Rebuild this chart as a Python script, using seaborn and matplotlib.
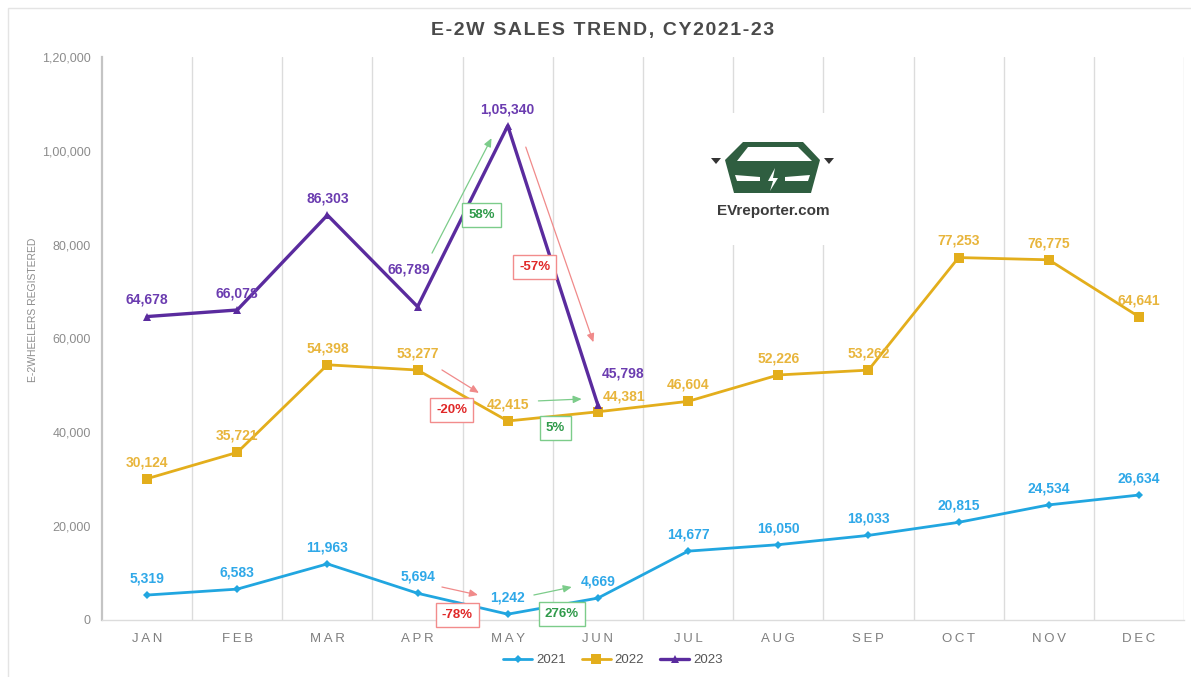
import numpy as np
import pandas as pd
import matplotlib
matplotlib.use("Agg")
import matplotlib.pyplot as plt
import seaborn as sns
from matplotlib.ticker import FuncFormatter
from matplotlib.patches import Polygon, Rectangle

# data
months = ["JAN", "FEB", "MAR", "APR", "MAY", "JUN",
          "JUL", "AUG", "SEP", "OCT", "NOV", "DEC"]
sales_2021 = [5319, 6583, 11963, 5694, 1242, 4669,
              14677, 16050, 18033, 20815, 24534, 26634]
sales_2022 = [30124, 35721, 54398, 53277, 42415, 44381,
              46604, 52226, 53262, 77253, 76775, 64641]
sales_2023 = [64678, 66078, 86303, 66789, 105340, 45798]
years = ["2021", "2022", "2023"]
y_ticks = [0, 20000, 40000, 60000, 80000, 100000, 120000]

series = {"2021": sales_2021, "2022": sales_2022, "2023": sales_2023}
rows = []
for yr in years:
    for i, v in enumerate(series[yr]):
        rows.append({"year": yr, "pos": i, "month": months[i], "sales": v})
df = pd.DataFrame(rows)


def indian(v, pos=None):
    s = str(int(round(v)))
    if len(s) <= 3:
        return s
    last3, rest = s[-3:], s[:-3]
    groups = []
    while len(rest) > 2:
        groups.insert(0, rest[-2:])
        rest = rest[:-2]
    if rest:
        groups.insert(0, rest)
    return ",".join(groups + [last3])


def spaced(s, sp):
    # fake letter spacing
    return sp.join(s)


sns.set_style("white")
plt.rcParams["font.family"] = ["Liberation Sans", "DejaVu Sans"]

line_col = {"2021": "#21a6e0", "2022": "#e3ae1c", "2023": "#5a2b9e"}
text_col = {"2021": "#2fa8e8", "2022": "#e8b53c", "2023": "#6b3cb0"}
marker = {"2021": "D", "2022": "s", "2023": "^"}
msize = {"2021": 4, "2022": 6.5, "2023": 5.5}
lw = {"2021": 2.0, "2022": 2.0, "2023": 2.4}

W, H = 1191, 677
fig = plt.figure(figsize=(W / 100, H / 100), dpi=100)
ax = fig.add_axes([102 / W, 1 - 620 / H, (1184 - 102) / W, (620 - 57) / H])

for yr in years:
    d = df[df["year"] == yr]
    sns.lineplot(data=d, x="pos", y="sales", ax=ax, color=line_col[yr],
                 marker=marker[yr], markersize=msize[yr], markeredgewidth=0,
                 linewidth=lw[yr], label=yr, zorder=3)

# data labels (a few were nudged in the original)
nudge = {("2023", 3): (-6, 27), ("2023", 5): (18, 23), ("2022", 5): (19, 11)}
for yr in years:
    for i, v in enumerate(series[yr]):
        dx, dy = nudge.get((yr, i), (0, 12))
        ax.annotate(indian(v), (i, v), xytext=(dx, dy), textcoords="offset points",
                    ha="center", va="center", fontsize=10, fontweight="bold",
                    color=text_col[yr], zorder=5)

# month-on-month change callouts: (year, from_idx, start, end, box)
callouts = [
    ("2023", 3, (3.16, 78200), (3.82, 102700), (3.71, 86300)),
    ("2023", 4, (4.20, 100800), (4.95, 59200), (4.30, 75200)),
    ("2022", 3, (3.27, 53300), (3.68, 48400), (3.38, 44750)),
    ("2022", 4, (4.34, 46700), (4.82, 47100), (4.53, 40900)),
    ("2021", 3, (3.27, 7030), (3.67, 5330), (3.44, 1070)),
    ("2021", 4, (4.29, 5330), (4.71, 7030), (4.60, 1280)),
]
for yr, i, p0, p1, pb in callouts:
    vals = series[yr]
    chg = (vals[i + 1] / vals[i] - 1) * 100
    good = chg >= 0
    arrow_c = "#7ccc8a" if good else "#f08a8a"
    txt_c = "#2f9a4a" if good else "#e02828"
    ax.annotate("", xy=p1, xytext=p0,
                arrowprops=dict(arrowstyle="-|>,head_length=0.5,head_width=0.22",
                                color=arrow_c, lw=0.9, shrinkA=0, shrinkB=0),
                zorder=4)
    ax.text(pb[0], pb[1], f"{chg:.0f}%", ha="center", va="center",
            fontsize=9.5, fontweight="bold", color=txt_c, zorder=6,
            bbox=dict(boxstyle="square,pad=0.45", fc="white",
                      ec=arrow_c if good else "#f28c8c", lw=1.0))

ax.set_xlim(-0.5, 11.5)
ax.set_ylim(0, 120000)
ax.set_xticks(range(12))
ax.set_xticklabels([spaced(m, "\u2009") for m in months])
ax.set_xticks(np.arange(0.5, 12, 1), minor=True)
ax.set_yticks(y_ticks)
ax.yaxis.set_major_formatter(FuncFormatter(indian))
ax.grid(which="minor", axis="x", color="#dcdcdc", lw=1.0)
ax.grid(which="major", visible=False)
ax.tick_params(axis="x", which="both", length=0, pad=9, labelsize=9.5,
               labelcolor="#7f7f7f")
ax.tick_params(axis="y", length=4, width=1, color="#c0c0c0", pad=4,
               labelsize=9, labelcolor="#8c8c8c")
ax.set_xlabel("")
ax.set_ylabel("")
for s in ["top", "right"]:
    ax.spines[s].set_visible(False)
ax.spines["left"].set_color("#c4c4c4")
ax.spines["left"].set_linewidth(1.6)
ax.spines["bottom"].set_color("#dcdcdc")
ax.spines["bottom"].set_linewidth(1.0)
ax.set_axisbelow(True)

ax.legend_.remove()
handles, labels = ax.get_legend_handles_labels()
fig.legend(handles, labels, loc="center", bbox_to_anchor=(613 / W, 1 - 660 / H),
           ncol=3, frameon=False, fontsize=9.5, handlelength=2.2,
           columnspacing=1.2, handletextpad=0.3, labelcolor="#555555")

fig.text(603 / W, 1 - 30 / H, spaced("E-2W SALES TREND, CY2021-23", "\u200a"),
         ha="center", va="center", fontsize=14, fontweight="bold",
         color="#4a4a4a")
fig.text(33 / W, 1 - 310 / H, "E-2WHEELERS REGISTERED", rotation=90,
         ha="center", va="center", fontsize=7.5, color="#8c8c8c")

# outer frame
fig.patches.append(Rectangle((8 / W, -0.01), 1.2, 1 - 8 / H + 0.01,
                             transform=fig.transFigure, fill=False,
                             ec="#e4e4e4", lw=1.0))

# logo
lax = fig.add_axes([705 / W, 1 - 245 / H, 140 / W, 132 / H])
lax.set_xlim(705, 845)
lax.set_ylim(245, 113)
lax.axis("off")
lax.add_patch(Rectangle((705, 113), 140, 132, fc="white", ec="none"))
green = "#2f5e40"
lax.add_patch(Polygon([(743, 142), (803, 142), (820, 160), (811, 193),
                       (734, 193), (725, 160)], closed=True, fc=green, ec="none"))
lax.add_patch(Polygon([(748, 147), (798, 147), (812, 161), (737, 161)],
                      closed=True, fc="white", ec="none"))
lax.add_patch(Polygon([(735, 175), (760, 177), (760, 181), (737, 181)],
                      closed=True, fc="white", ec="none"))
lax.add_patch(Polygon([(785, 177), (810, 175), (808, 181), (785, 181)],
                      closed=True, fc="white", ec="none"))
lax.add_patch(Polygon([(775, 168), (768, 181), (773, 181), (770, 191),
                       (778, 178), (773, 178)], closed=True, fc="white", ec="none"))
lax.add_patch(Polygon([(711, 158), (721, 158), (716, 164)], closed=True,
                      fc="#333333", ec="none"))
lax.add_patch(Polygon([(824, 158), (834, 158), (829, 164)], closed=True,
                      fc="#333333", ec="none"))
lax.text(773, 211, "EVreporter.com", ha="center", va="center", fontsize=11,
         fontweight="bold", color="#3c3c3c")

fig.savefig("out.png", dpi=100)
